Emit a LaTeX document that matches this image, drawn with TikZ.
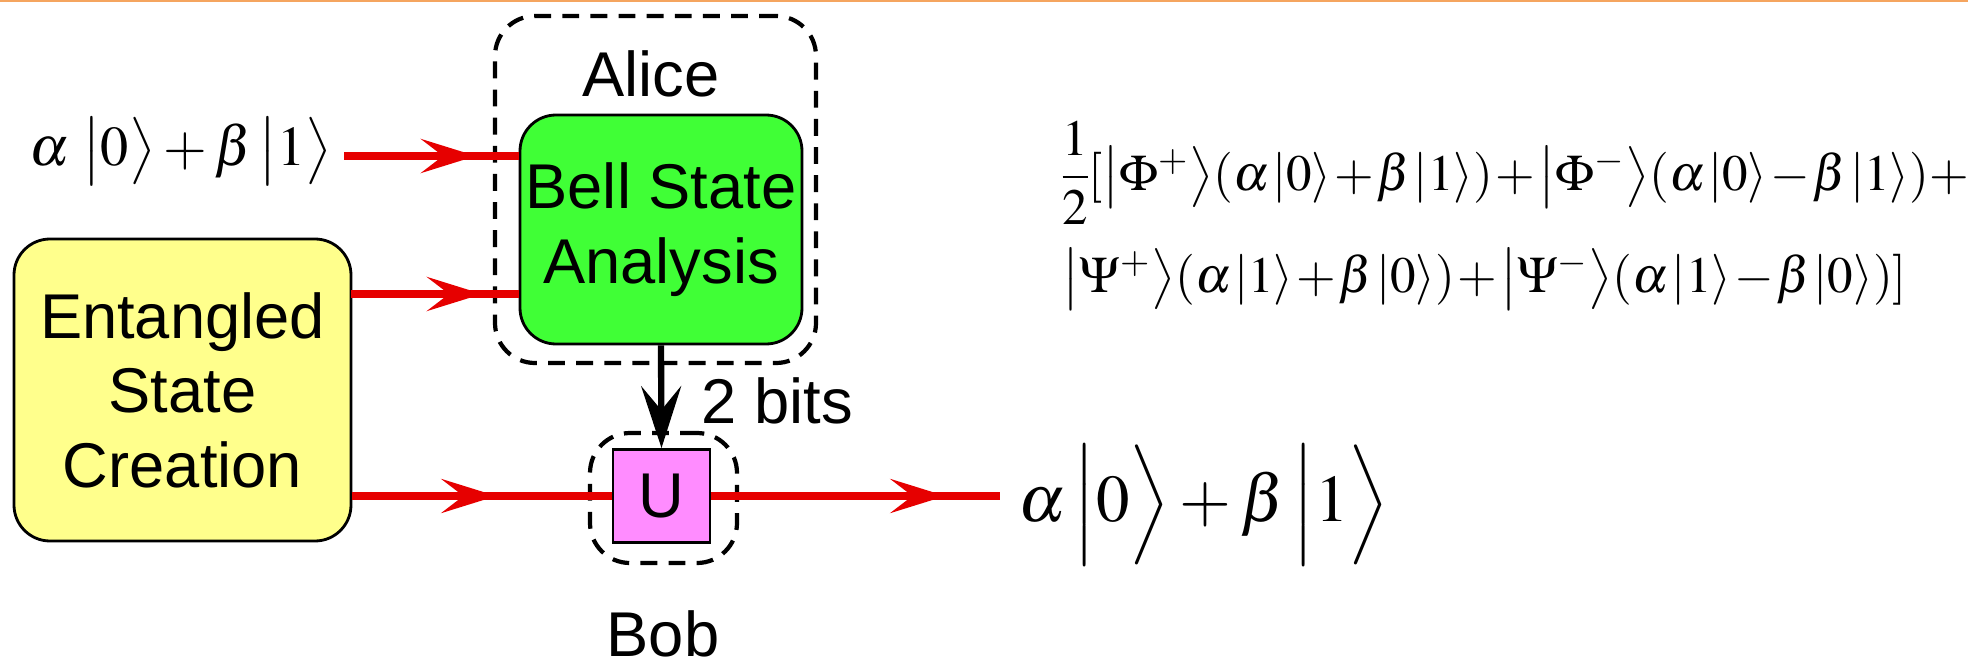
\documentclass[tikz,border=0pt]{standalone}
\usepackage{amsmath}
\usepackage{mathptmx}
\usepackage[no-math]{fontspec}
\setmainfont{Liberation Sans}
\usetikzlibrary{arrows.meta,decorations.markings,positioning}

\definecolor{bsagreen}{RGB}{64,255,54}
\definecolor{escyellow}{RGB}{255,255,140}
\definecolor{gatepink}{RGB}{255,140,255}
\definecolor{qred}{RGB}{230,0,0}
\definecolor{rulegold}{RGB}{245,165,95}

% kets: tall ones and plain ones
\newcommand{\ketv}[1]{\bigl|#1\bigr\rangle}
\newcommand{\ketV}[1]{\Bigl|#1\Bigr\rangle}
\newcommand{\keti}[1]{\mkern1mu|#1\rangle}
\newcommand{\tightops}{\medmuskip=1mu\relax\nulldelimiterspace=0pt\relax}

\tikzset{
  qtip/.tip={Stealth[length=0.55cm,width=0.34cm,inset=0.22cm]},
  labeltext/.style={font=\fontsize{18}{21.2}\selectfont, inner sep=0pt},
  procbox/.style={draw, line width=0.8pt, rounded corners=0.36cm, align=center,
    font=\fontsize{18}{21.2}\selectfont, inner sep=0pt},
  partybox/.style={draw, line width=1.2pt, dash pattern=on 4.8pt off 3.2pt,
    rounded corners=0.4cm, inner sep=0pt},
  qwire/.style={draw=qred, line width=2pt},
  ketbig/.style={font=\fontsize{16}{21}\selectfont, inner sep=0pt},
  eqline/.style={font=\fontsize{14.5}{19}\selectfont, inner sep=0pt, anchor=base west},
}

\begin{document}
\begin{tikzpicture}[line cap=butt]
  \useasboundingbox (0,0) rectangle (19.68,-6.58);

  % thin rule along the top edge
  \draw[rulegold, line width=0.7pt] (0,-0.012) -- (19.68,-0.012);

  % Alice and Bob regions
  \node[partybox, minimum width=3.21cm, minimum height=3.47cm] (alicegrp) at (6.555,-1.895) {};
  \node[partybox, minimum width=1.47cm, minimum height=1.30cm] (bobgrp) at (6.635,-4.98) {};
  \node[labeltext, anchor=base] (alice) at (6.51,-0.97) {Alice};
  \node[labeltext, anchor=base] (bob) at (6.63,-6.56) {Bob};

  % processing boxes
  \node[procbox, fill=escyellow, minimum width=3.37cm, minimum height=3.02cm] (esc) at (1.825,-3.90)
    {Entangled\\State\\Creation};
  \node[procbox, fill=bsagreen, minimum width=2.82cm, minimum height=2.29cm] (bsa) at (6.61,-2.295)
    {Bell State\\Analysis};

  % input state
  \node[ketbig] (ketin) at (1.81,-1.515)
    {$\alpha\;\ketv{0}+\beta\,\ketv{1}$};
  \coordinate (inA) at (3.44,-1.56);
  \coordinate (inB) at (3.51,-2.94);
  \coordinate (outend) at (10.0,-4.96);

  % quantum wires
  \draw[qwire, postaction={decorate},
    decoration={markings, mark=at position 1.32cm with {\arrow[qred]{qtip}}}]
    (inA) -- (inA -| bsa.west);
  \draw[qwire, postaction={decorate},
    decoration={markings, mark=at position 1.31cm with {\arrow[qred]{qtip}}}]
    (inB) -- (inB -| bsa.west);
  \draw[qwire, postaction={decorate},
    decoration={markings, mark=at position 1.44cm with {\arrow[qred]{qtip}},
      mark=at position 5.93cm with {\arrow[qred]{qtip}}}]
    (outend -| esc.east) -- (outend);

  % Bob's correction
  \node[draw, line width=0.8pt, fill=gatepink, minimum width=0.97cm, minimum height=0.93cm,
    font=\fontsize{18}{21.2}\selectfont, inner sep=0pt] (u) at (6.615,-4.96) {U};

  % classical bits
  \draw[line width=1.8pt, -{Stealth[length=0.62cm,width=0.40cm,inset=0.24cm]}] (bsa.south) -- (u.north);
  \node[labeltext, anchor=base west] (bits) at (7.01,-4.23) {2 bits};

  % output state
  \node[ketbig, font=\fontsize{19}{23}\selectfont] (ketout) at (12.04,-5.05)
    {$\alpha\,\ketV{0}+\beta\,\ketV{1}$};

  % expansion of the joint state
  \node[eqline] (eqA) at (10.62,-1.90)
    {$\tightops\dfrac{1}{2}[\ketv{\Phi^{+}}(\alpha\keti{0}+\beta\keti{1})
      +\ketv{\Phi^{-}}(\alpha\keti{0}-\beta\keti{1})+$};
  \node[eqline] (eqB) at ([yshift=-1.02cm]eqA.base west)
    {$\tightops\ketv{\Psi^{+}}(\alpha\keti{1}+\beta\keti{0})
      +\ketv{\Psi^{-}}(\alpha\keti{1}-\beta\keti{0})]$};

\end{tikzpicture}
\end{document}
